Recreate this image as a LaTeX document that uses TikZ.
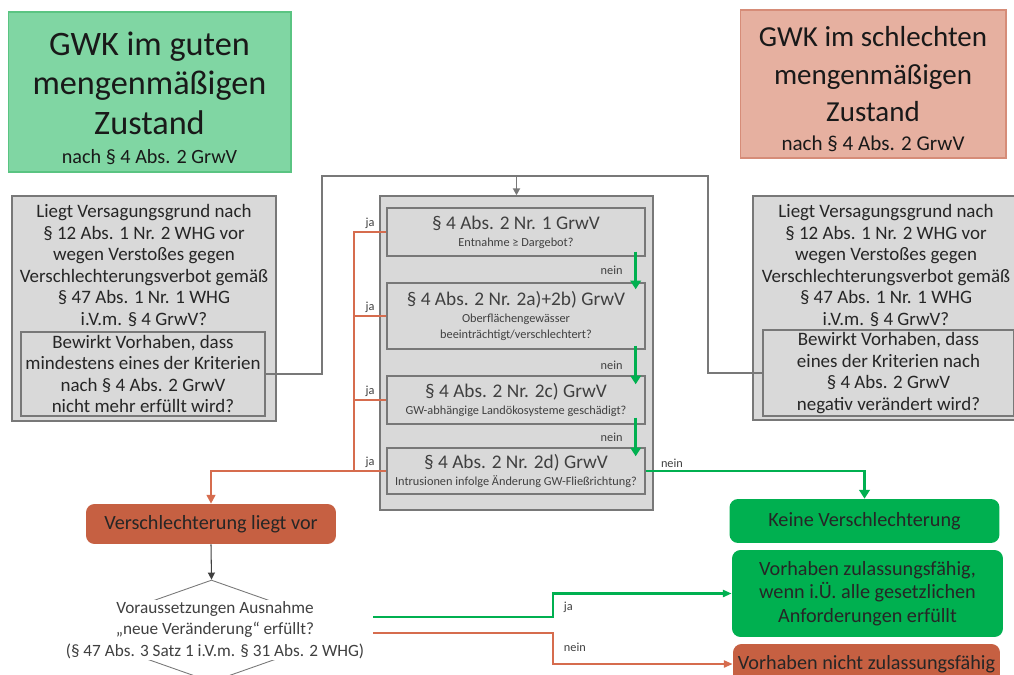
\documentclass[tikz,border=0pt]{standalone}
\usepackage{fontspec}
\setmainfont{Carlito}
\usetikzlibrary{shapes.geometric,arrows.meta}

\definecolor{hellgruen}{RGB}{128,214,163}
\definecolor{randgruen}{RGB}{90,196,130}
\definecolor{hellrot}{RGB}{230,176,160}
\definecolor{randrot}{RGB}{214,140,120}
\definecolor{kastengrau}{RGB}{217,217,217}
\definecolor{liniengrau}{RGB}{120,120,120}
\definecolor{gruen}{RGB}{0,176,80}
\definecolor{rot}{RGB}{198,96,66}
\definecolor{rotlinie}{RGB}{214,108,78}
\definecolor{schrift}{RGB}{64,64,64}

\begin{document}
\begin{tikzpicture}[x=0.02cm,y=-0.02cm,
  titel/.style={inner sep=0pt, line width=0.6pt},
  titeltext/.style={align=center, inner sep=0pt, text=black!90},
  kasten/.style={draw=liniengrau, fill=kastengrau, line width=0.8pt, inner sep=0pt, align=center,
    font=\fontsize{10.8}{12.2}\selectfont, text=black!85},
  frage/.style={inner sep=0pt, align=center, font=\fontsize{10.8}{12.2}\selectfont, text=black!85},
  kriterium/.style={kasten, minimum width=5.16cm, font=\fontsize{7}{9.6}\selectfont, text=schrift},
  ergebnis/.style={rounded corners=0.17cm, inner sep=0pt, align=center, font=\fontsize{11.5}{13.3}\selectfont, text=black!85},
  beschriftung/.style={font=\fontsize{7}{8}\selectfont, text=schrift, inner sep=1.5pt},
  verbinder/.style={draw=liniengrau, line width=1pt},
  neinpfeil/.style={draw=gruen, line width=1.7pt, -{Triangle[length=5pt,width=6pt]}},
  jalinie/.style={draw=rotlinie, line width=1.1pt}]

\useasboundingbox (0,0) rectangle (1014,675);

% Zustand des GWK
\node[titel, draw=randgruen, fill=hellgruen, minimum width=5.66cm, minimum height=3.2cm] (gut) at (149.5,92) {};
\node[titeltext, font=\fontsize{19.5}{22.7}\selectfont] (guttext) at (149.5,98)
  {GWK im guten\\ mengenmäßigen\\ Zustand\\[-6.5pt] \fontsize{11.5}{14}\selectfont nach § 4 Abs. 2 GrwV};
\node[titel, draw=randrot, fill=hellrot, minimum width=5.32cm, minimum height=2.96cm] (schlecht) at (873,84) {};
\node[titeltext, font=\fontsize{16.5}{21.3}\selectfont] (schlechttext) at (873,89)
  {GWK im schlechten\\ mengenmäßigen\\ Zustand\\[-5pt] \fontsize{12}{14}\selectfont nach § 4 Abs. 2 GrwV};

% Versagungsgrund links / rechts
\node[kasten, minimum width=5.28cm, minimum height=4.5cm] (links) at (144,308.5) {};
\node[frage, anchor=north] (linkstext) at ([yshift=-0.18cm]links.north)
  {Liegt Versagungsgrund nach\\ § 12 Abs. 1 Nr. 2 WHG vor\\ wegen Verstoßes gegen\\ Verschlechterungsverbot gemäß\\ § 47 Abs. 1 Nr. 1 WHG\\ i.V.m. § 4 GrwV?};
\node[kasten, minimum width=4.88cm, minimum height=1.68cm] (linksfrage) at (143,374)
  {Bewirkt Vorhaben, dass\\ mindestens eines der Kriterien\\ nach § 4 Abs. 2 GrwV\\ nicht mehr erfüllt wird?};

\node[kasten, minimum width=5.44cm, minimum height=4.48cm] (rechts) at (889,308) {};
\node[frage, anchor=north] (rechtstext) at ([xshift=-0.06cm,yshift=-0.18cm]rechts.north)
  {Liegt Versagungsgrund nach\\ § 12 Abs. 1 Nr. 2 WHG vor\\ wegen Verstoßes gegen\\ Verschlechterungsverbot gemäß\\ § 47 Abs. 1 Nr. 1 WHG\\ i.V.m. § 4 GrwV?};
\node[kasten, minimum width=5.02cm, minimum height=1.72cm] (rechtsfrage) at (888.5,373)
  {Bewirkt Vorhaben, dass\\ eines der Kriterien nach\\ § 4 Abs. 2 GrwV\\ negativ verändert wird?};

% Pruefung der Kriterien
\node[kasten, minimum width=5.46cm, minimum height=6.28cm] (pruefung) at (516.5,353) {};
\node[kriterium, minimum height=0.96cm] (nr1) at (516,232)
  {{\fontsize{11}{13}\selectfont § 4 Abs. 2 Nr. 1 GrwV}\\ Entnahme ≥ Dargebot?};
\node[kriterium, minimum height=1.32cm] (nr2) at (516,316)
  {{\fontsize{11}{13}\selectfont § 4 Abs. 2 Nr. 2a)+2b) GrwV}\\ Oberflächengewässer\\ beeinträchtigt/verschlechtert?};
\node[kriterium, minimum height=0.96cm] (nr3) at (516,400)
  {{\fontsize{11}{13}\selectfont § 4 Abs. 2 Nr. 2c) GrwV}\\ GW-abhängige Landökosysteme geschädigt?};
\node[kriterium, minimum height=0.92cm] (nr4) at (516,471)
  {{\fontsize{11}{13}\selectfont § 4 Abs. 2 Nr. 2d) GrwV}\\ Intrusionen infolge Änderung GW-Fließrichtung?};

% Ergebnisse
\node[ergebnis, fill=rot, minimum width=5cm, minimum height=0.8cm] (verschl) at (211,524) {Verschlechterung liegt vor};
\node[ergebnis, fill=gruen, minimum width=5.4cm, minimum height=0.88cm] (keine) at (864.5,521) {Keine Verschlechterung};
\node[ergebnis, fill=gruen, minimum width=5.42cm, minimum height=1.74cm] (zulaessig) at (867.5,593.5)
  {Vorhaben zulassungsfähig,\\ wenn i.Ü. alle gesetzlichen\\ Anforderungen erfüllt};
\node[ergebnis, fill=rot, minimum width=5.34cm, minimum height=0.8cm] (nicht) at (866.5,664) {Vorhaben nicht zulassungsfähig};

% Ausnahme
\node[diamond, draw=liniengrau, line width=0.5pt, inner sep=0pt, minimum width=5.78cm, minimum height=2.04cm] (raute) at (211.5,631) {};
\node[fill=white, inner sep=1pt, align=center, font=\fontsize{9.8}{12.2}\selectfont, text=schrift] (ausnahme) at (215,630)
  {Voraussetzungen Ausnahme\\ „neue Veränderung“ erfüllt?\\ (§ 47 Abs. 3 Satz 1 i.V.m. § 31 Abs. 2 WHG)};

% Verbindungen
\coordinate (knickl) at (322,176);
\coordinate (knickr) at (708,176);
\draw[verbinder] (linksfrage.east) -| (knickl) -- (knickr) |- (rechtsfrage.west);
\draw[verbinder, -{Triangle[length=4pt,width=4pt]}] (pruefung.north |- knickl) -- (pruefung.north);

\draw[neinpfeil] ([xshift=-0.2cm,yshift=0.1cm]nr1.south east) -- ([xshift=-0.2cm,yshift=-0.14cm]nr2.north east)
  node[midway, left=0.18cm, beschriftung] (nein1) {nein};
\draw[neinpfeil] ([xshift=-0.2cm,yshift=0.08cm]nr2.south east) -- ([xshift=-0.2cm,yshift=-0.18cm]nr3.north east)
  node[midway, left=0.18cm, beschriftung] (nein2) {nein};
\draw[neinpfeil] ([xshift=-0.2cm,yshift=0.14cm]nr3.south east) -- ([xshift=-0.2cm,yshift=-0.18cm]nr4.north east)
  node[midway, left=0.18cm, beschriftung] (nein3) {nein};
\draw[neinpfeil, line width=1.4pt] (nr4.east) -| (keine.north) node[pos=0.06, above, beschriftung] (nein4) {nein};

\coordinate (sammel) at (354,471);
\draw[jalinie] (nr1.west) -- (nr1.west -| sammel) node[midway, above, beschriftung] (ja1) {ja} -- (sammel);
\draw[jalinie] (nr2.west) -- (nr2.west -| sammel) node[midway, above, beschriftung] (ja2) {ja};
\draw[jalinie] (nr3.west) -- (nr3.west -| sammel) node[midway, above, beschriftung] (ja3) {ja};
\draw[jalinie, -{Triangle[length=5pt,width=5pt]}] (nr4.west) -- (sammel) node[midway, above, beschriftung] (ja4) {ja} -| (verschl.north);

\draw[draw=schrift, line width=0.6pt, -{Triangle[length=4pt,width=4pt]}] (verschl.south) -- (raute.north);

\draw[draw=gruen, line width=1.2pt, -{Triangle[length=5pt,width=4pt]}] ([xshift=0.34cm,yshift=0.28cm]raute.east) -- ++(180,0) |- (zulaessig.west);
\draw[draw=rotlinie, line width=1.2pt, -{Triangle[length=5pt,width=4pt]}] ([xshift=0.34cm,yshift=-0.04cm]raute.east) -- ++(180,0) |- (nicht.west);
\node[beschriftung, anchor=west] (ja5) at (561,607) {ja};
\node[beschriftung, anchor=west] (nein5) at (561,647) {nein};

\end{tikzpicture}
\end{document}
